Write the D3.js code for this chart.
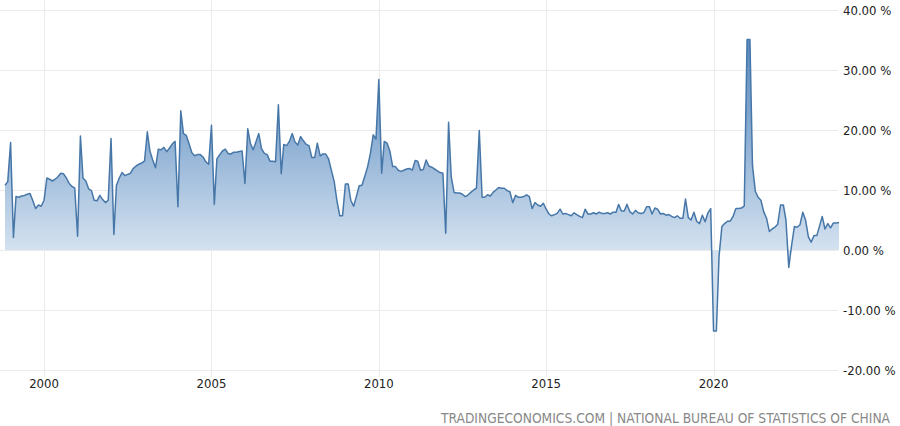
<!DOCTYPE html>
<html>
<head>
<meta charset="utf-8">
<script src="https://cdn.jsdelivr.net/npm/d3@7"></script>
<style>
    body { margin: 0; background: #fff; }
    #chart-container { width: 900px; height: 426px; }
    text { font-family: 'DejaVu Sans Condensed', 'Liberation Sans', sans-serif; }
</style>
</head>
<body>
<div id="chart-container"></div>
<script>
// China industrial production, YoY %, monthly from Nov 1998 to Oct 2023
const START_MONTH = new Date(1998, 10, 1);

const values1998 = [10.8, 11.4];
const values1999 = [17.9, 2.1, 8.9, 8.8, 9.0, 9.1, 9.3, 9.4, 8.2, 6.9, 7.5, 7.3];
const values2000 = [8.3, 12.0, 11.8, 11.5, 11.8, 12.2, 12.8, 12.7, 12.0, 11.1, 10.6, 10.3];
const values2001 = [2.3, 19.0, 12.0, 11.5, 10.2, 9.9, 8.3, 8.2, 9.1, 8.4, 7.9, 8.3];
const values2002 = [18.6, 2.6, 10.8, 12.0, 12.9, 12.4, 12.6, 12.8, 13.6, 14.0, 14.3, 14.5];
const values2003 = [14.8, 19.7, 16.5, 15.0, 13.7, 16.8, 16.7, 17.1, 16.4, 17.0, 17.7, 18.1];
const values2004 = [7.2, 23.2, 19.4, 19.1, 17.7, 16.2, 15.7, 15.9, 15.9, 15.5, 14.7, 14.3];
const values2005 = [20.8, 7.6, 15.2, 15.9, 16.5, 16.8, 16.1, 16.0, 16.3, 16.3, 16.4, 16.5];
const values2006 = [11.1, 20.2, 17.8, 16.7, 18.0, 19.4, 16.9, 16.1, 15.9, 14.8, 14.8, 14.7];
const values2007 = [24.2, 12.7, 17.6, 17.4, 18.1, 19.4, 18.0, 17.5, 18.9, 18.2, 17.6, 17.4];
const values2008 = [15.4, 15.4, 17.8, 15.7, 16.0, 16.0, 15.2, 13.3, 11.4, 8.2, 5.7, 5.7];
const values2009 = [11.0, 11.0, 8.3, 7.3, 8.9, 10.7, 10.8, 12.3, 13.9, 16.1, 19.2, 18.5];
const values2010 = [28.4, 12.8, 18.1, 17.8, 16.5, 13.9, 13.9, 13.3, 13.1, 13.3, 13.5, 13.6];
const values2011 = [13.3, 14.9, 14.8, 13.3, 13.4, 15.0, 14.0, 13.8, 13.5, 13.2, 12.9, 12.8];
const values2012 = [2.8, 21.3, 12.2, 9.6, 9.5, 9.5, 9.3, 8.9, 9.2, 9.6, 10.0, 10.3];
const values2013 = [19.9, 8.8, 8.8, 9.2, 9.0, 9.6, 10.0, 10.4, 10.3, 10.3, 9.9, 9.7];
const values2014 = [7.9, 9.1, 8.8, 8.8, 8.9, 9.2, 8.9, 6.9, 7.9, 7.5, 7.3, 7.8];
const values2015 = [6.8, 6.0, 5.7, 5.9, 6.1, 6.8, 6.0, 6.1, 5.9, 5.7, 6.2, 5.9];
const values2016 = [5.6, 5.4, 6.8, 6.0, 6.0, 6.2, 6.0, 6.3, 6.1, 6.1, 6.2, 6.0];
const values2017 = [6.3, 6.3, 7.6, 6.5, 6.5, 7.6, 6.4, 6.0, 6.6, 6.2, 6.1, 6.2];
const values2018 = [7.2, 7.2, 6.0, 7.0, 6.8, 6.0, 6.1, 5.8, 5.9, 5.6, 5.4, 5.7];
const values2019 = [5.3, 5.3, 8.5, 5.4, 5.0, 6.3, 4.8, 4.4, 5.8, 4.7, 6.2, 6.9];
const values2020 = [-13.5, -13.5, -1.1, 3.9, 4.4, 4.8, 4.8, 5.6, 6.9, 6.9, 7.0, 7.3];
const values2021 = [35.1, 35.1, 14.1, 9.8, 8.8, 8.3, 6.4, 5.3, 3.1, 3.5, 3.8, 4.3];
const values2022 = [7.5, 7.5, 5.0, -2.9, 0.7, 3.9, 3.8, 4.2, 6.3, 5.0, 2.2, 1.3];
const values2023 = [2.4, 2.4, 3.9, 5.6, 3.5, 4.4, 3.7, 4.5, 4.5, 4.6];

const yTicks = [40, 30, 20, 10, 0, -10, -20];
const xTickYears = [2000, 2005, 2010, 2015, 2020];
const SOURCE_TEXT = 'TRADINGECONOMICS.COM | NATIONAL BUREAU OF STATISTICS OF CHINA';

document.addEventListener('DOMContentLoaded', () => {
    const allValues = [].concat(
        values1998, values1999, values2000, values2001, values2002, values2003,
        values2004, values2005, values2006, values2007, values2008, values2009,
        values2010, values2011, values2012, values2013, values2014, values2015,
        values2016, values2017, values2018, values2019, values2020, values2021,
        values2022, values2023
    );
    const data = allValues.map((v, i) => ({ date: d3.timeMonth.offset(START_MONTH, i), value: v }));

    const svg = d3.select('#chart-container').append('svg')
        .attr('width', 900)
        .attr('height', 426);

    const x = d3.scaleTime()
        .domain(d3.extent(data, d => d.date))
        .range([5, 839]);

    const y = d3.scaleLinear()
        .domain([-20, 40])
        .range([370, 10]);

    drawGrid(svg, x, y);
    drawSeries(svg, x, y, data);
    drawAxes(svg, x, y);
});

function drawGrid(svg, x, y) {
    svg.append('g')
        .selectAll('line')
        .data(yTicks)
        .join('line')
        .attr('x1', 0)
        .attr('x2', 838)
        .attr('y1', d => y(d) + 0.5)
        .attr('y2', d => y(d) + 0.5)
        .attr('stroke', '#ebebeb')
        .attr('stroke-width', 1);

    svg.append('g')
        .selectAll('line')
        .data(xTickYears)
        .join('line')
        .attr('x1', d => Math.round(x(new Date(d, 0, 1))) + 0.5)
        .attr('x2', d => Math.round(x(new Date(d, 0, 1))) + 0.5)
        .attr('y1', 0)
        .attr('y2', 377)
        .attr('stroke', '#ebebeb')
        .attr('stroke-width', 1);
}

function drawSeries(svg, x, y, data) {
    const defs = svg.append('defs');
    const grad = defs.append('linearGradient')
        .attr('id', 'area-fill')
        .attr('gradientUnits', 'userSpaceOnUse')
        .attr('x1', 0).attr('x2', 0)
        .attr('y1', y(35)).attr('y2', y(0));
    grad.append('stop').attr('offset', 0).attr('stop-color', '#5b8bbf');
    grad.append('stop').attr('offset', 0.45).attr('stop-color', '#8aadd3');
    grad.append('stop').attr('offset', 1).attr('stop-color', '#d4e2f0');

    const area = d3.area()
        .x(d => x(d.date))
        .y0(y(0))
        .y1(d => y(d.value));

    const line = d3.line()
        .x(d => x(d.date))
        .y(d => y(d.value));

    svg.append('path')
        .datum(data)
        .attr('d', area)
        .attr('fill', 'url(#area-fill)');

    svg.append('path')
        .datum(data)
        .attr('d', line)
        .attr('fill', 'none')
        .attr('stroke', '#4777a8')
        .attr('stroke-width', 1.5)
        .attr('stroke-linejoin', 'round');
}

function drawAxes(svg, x, y) {
    // plain hyphen for negatives, as in the source chart
    const fmt = d => d3.format('.2f')(d).replace('\u2212', '-') + ' %';

    svg.append('g')
        .selectAll('text')
        .data(yTicks)
        .join('text')
        .attr('x', 843)
        .attr('y', d => y(d))
        .attr('dy', '0.35em')
        .attr('font-size', '13px')
        .attr('fill', '#222')
        .text(fmt);

    svg.append('g')
        .selectAll('text')
        .data(xTickYears)
        .join('text')
        .attr('x', d => x(new Date(d, 0, 1)))
        .attr('y', 383)
        .attr('dy', '0.35em')
        .attr('text-anchor', 'middle')
        .attr('font-size', '13px')
        .attr('fill', '#222')
        .text(d => d);

    svg.append('text')
        .attr('x', 441)
        .attr('y', 418)
        .attr('dy', '0.35em')
        .attr('font-size', '14px')
        .attr('fill', '#888')
        .attr('textLength', 449)
        .attr('lengthAdjust', 'spacingAndGlyphs')
        .text(SOURCE_TEXT);
}
</script>
</body>
</html>
